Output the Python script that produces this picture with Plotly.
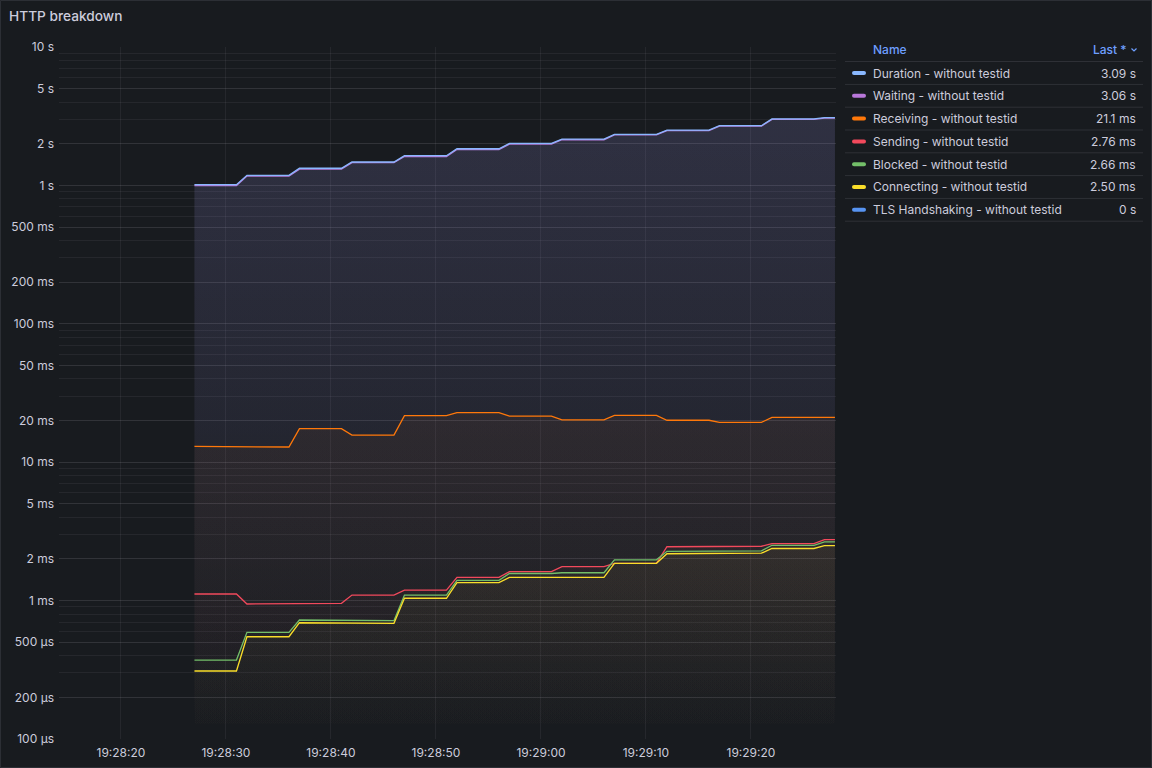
import plotly.graph_objects as go

# ---------------- data ----------------
DAY = "2024-05-14 "
# breakpoints: each plateau has a start and an end sample
times = ["19:28:27", "19:28:31", "19:28:32", "19:28:36", "19:28:37", "19:28:41",
         "19:28:42", "19:28:46", "19:28:47", "19:28:51", "19:28:52", "19:28:56",
         "19:28:57", "19:29:01", "19:29:02", "19:29:06", "19:29:07", "19:29:11",
         "19:29:12", "19:29:16", "19:29:17", "19:29:21", "19:29:22", "19:29:26",
         "19:29:27", "19:29:28"]

series_names = ["Duration - without testid", "Waiting - without testid",
                "Receiving - without testid", "Sending - without testid",
                "Blocked - without testid", "Connecting - without testid",
                "TLS Handshaking - without testid"]

# plateau values in seconds
duration = [1.012, 1.183, 1.33, 1.476, 1.64, 1.84, 2.01, 2.16, 2.34, 2.51, 2.70, 3.02, 3.09]
waiting = [0.998, 1.169, 1.311, 1.459, 1.617, 1.816, 1.987, 2.138, 2.316, 2.487, 2.678, 2.996, 3.063]
receiving = [0.0130, 0.01288, 0.01746, 0.0157, 0.0217, 0.0228, 0.0215, 0.0202, 0.0218,
             0.0201, 0.0194, 0.0211, 0.0211]
sending = [0.001116, 0.000945, 0.000955, 0.001097, 0.00119, 0.00147, 0.00162, 0.00176,
           0.00186, 0.00245, 0.00247, 0.00258, 0.00276]
blocked = [0.000372, 0.000590, 0.000724, 0.000716, 0.001097, 0.00140, 0.00157, 0.00159,
           0.00197, 0.00227, 0.00229, 0.00251, 0.00266]
connecting = [0.000310, 0.000548, 0.000692, 0.000685, 0.00104, 0.00135, 0.00147, 0.00147,
              0.00186, 0.00218, 0.00220, 0.00238, 0.00250]
tls = [0, 0, 0, 0, 0, 0, 0, 0, 0, 0, 0, 0, 0]

series_values = [duration, waiting, receiving, sending, blocked, connecting, tls]
series_colors = ["#8AB8FF", "#B877D9", "#FF780A", "#F2495C", "#73BF69", "#FADE2A", "#5794F2"]
# drawing order (Duration line kept on top of Waiting)
draw_order = [1, 0, 2, 3, 4, 5, 6]

y_tickvals = [1e-4, 2e-4, 5e-4, 1e-3, 2e-3, 5e-3, 0.01, 0.02, 0.05, 0.1, 0.2, 0.5, 1, 2, 5, 10]
y_ticktext = ["100 µs", "200 µs", "500 µs", "1 ms", "2 ms", "5 ms", "10 ms", "20 ms",
              "50 ms", "100 ms", "200 ms", "500 ms", "1 s", "2 s", "5 s", "10 s"]

# ---------------- layout geometry ----------------
W, H = 1152, 768
L, R, T, B = 59, 836, 47, 739
FONT = "Inter, 'Noto Sans', sans-serif"
TEXT = "rgb(204,204,220)"
BG = "#181b1f"
GRID = "rgba(204,204,220,0.075)"


def px(x):
    return (x - L) / (R - L)


def py(y):
    return (B - y) / (B - T)


def rgba(hexc, a):
    h = hexc.lstrip("#")
    r, g, b = int(h[0:2], 16), int(h[2:4], 16), int(h[4:6], 16)
    return f"rgba({r},{g},{b},{a})"


def fmt(v):
    if v == 0:
        return "0 s"
    if v >= 1:
        val, unit = v, "s"
    elif v >= 1e-3:
        val, unit = v * 1e3, "ms"
    else:
        val, unit = v * 1e6, "µs"
    dec = 0 if val >= 100 else (1 if val >= 10 else 2)
    return f"{val:.{dec}f} {unit}"


x = [DAY + t for t in times]

fig = go.Figure()
for k in draw_order:
    name, vals, col = series_names[k], series_values[k], series_colors[k]
    y = [v for v in vals for _ in (0, 1)]
    kw = {}
    if any(v > 0 for v in vals):
        kw = dict(fill="tozeroy",
                  fillgradient=dict(type="vertical", start=1e-4, stop=10,
                                    colorscale=[[0, rgba(col, 0)], [1, rgba(col, 0.1)]]))
    fig.add_trace(go.Scatter(x=x, y=y, mode="lines", name=name,
                             line=dict(color=col, width=1.3), hoverinfo="skip", **kw))

minor_vals = [k * 10 ** e for e in range(-4, 1) for k in range(1, 10)] + [10]

fig.update_layout(
    width=W, height=H, autosize=False,
    margin=dict(l=L, r=W - R, t=T, b=H - B, autoexpand=False),
    paper_bgcolor=BG, plot_bgcolor=BG,
    font=dict(family=FONT, color=TEXT, size=12),
    showlegend=False,
    xaxis=dict(type="date", range=[DAY + "19:28:14.1", DAY + "19:29:28.1"],
               tick0=DAY + "19:28:00", dtick=10000, tickformat="%H:%M:%S",
               showgrid=True, gridcolor=GRID, gridwidth=1, zeroline=False, showline=False,
               ticks="outside", ticklen=3, tickcolor="rgba(0,0,0,0)", automargin=False,
               tickfont=dict(size=12, color=TEXT)),
    yaxis=dict(type="log", range=[-4, 1], tickmode="array", tickvals=y_tickvals,
               ticktext=y_ticktext, showgrid=True, gridcolor=GRID, zeroline=False,
               showline=False, ticks="", ticklabelstandoff=4, automargin=False,
               tickfont=dict(size=12, color=TEXT),
               minor=dict(tickmode="array", tickvals=minor_vals, showgrid=True,
                          gridcolor=GRID, ticks="")),
)

shapes = []
annotations = []

# panel border
shapes.append(dict(type="rect", xref="paper", yref="paper", x0=px(0.5), x1=px(W - 0.5),
                   y0=py(0.5), y1=py(H - 0.5), line=dict(color="#2c2f35", width=1),
                   fillcolor="rgba(0,0,0,0)", layer="above"))

# title
annotations.append(dict(xref="paper", yref="paper", x=px(7), y=py(16), xanchor="left",
                        yanchor="middle", showarrow=False, text="HTTP breakdown",
                        font=dict(size=13.7, color=TEXT, family=FONT, weight=500)))

# legend table
LX0, LX1 = 845, 1143
HEAD_Y = 49
ROW0, ROWH = 73, 22.8
BLUE = "#6E9FFF"
LFS = 12
annotations.append(dict(xref="paper", yref="paper", x=px(871), y=py(HEAD_Y), xanchor="left",
                        yanchor="middle", showarrow=False, text="Name",
                        font=dict(size=LFS, color=BLUE, family=FONT, weight=500)))
annotations.append(dict(xref="paper", yref="paper", x=px(1129), y=py(HEAD_Y), xanchor="right",
                        yanchor="middle", showarrow=False, text="Last *",
                        font=dict(size=LFS, color=BLUE, family=FONT, weight=500)))
# chevron
shapes.append(dict(type="path", xref="paper", yref="paper",
                   path=f"M {px(1131.5)},{py(48.5)} L {px(1134)},{py(51)} L {px(1136.5)},{py(48.5)}",
                   line=dict(color=BLUE, width=1.2)))

line_col = "rgba(204,204,220,0.12)"
shapes.append(dict(type="line", xref="paper", yref="paper", x0=px(LX0), x1=px(LX1),
                   y0=py(61.5), y1=py(61.5), line=dict(color=line_col, width=1)))
for i, (name, vals, col) in enumerate(zip(series_names, series_values, series_colors)):
    yc = ROW0 + ROWH * i
    annotations.append(dict(xref="paper", yref="paper", x=px(871), y=py(yc), xanchor="left",
                            yanchor="middle", showarrow=False, text=name,
                            font=dict(size=LFS, color=TEXT, family=FONT)))
    annotations.append(dict(xref="paper", yref="paper", x=px(1138), y=py(yc), xanchor="right",
                            yanchor="middle", showarrow=False, text=fmt(vals[-1]),
                            font=dict(size=LFS, color=TEXT, family=FONT)))
    x0, x1, y0, y1 = 852, 866, yc - 2, yc + 2
    path = (f"M {px(x0 + 2)},{py(y0)} L {px(x1 - 2)},{py(y0)} "
            f"Q {px(x1)},{py(y0)} {px(x1)},{py(yc)} Q {px(x1)},{py(y1)} {px(x1 - 2)},{py(y1)} "
            f"L {px(x0 + 2)},{py(y1)} Q {px(x0)},{py(y1)} {px(x0)},{py(yc)} "
            f"Q {px(x0)},{py(y0)} {px(x0 + 2)},{py(y0)} Z")
    shapes.append(dict(type="path", xref="paper", yref="paper", path=path,
                       fillcolor=col, line=dict(width=0)))
    sep = yc + ROWH / 2
    shapes.append(dict(type="line", xref="paper", yref="paper", x0=px(LX0), x1=px(LX1),
                       y0=py(sep), y1=py(sep), line=dict(color=line_col, width=1)))

fig.update_layout(shapes=shapes, annotations=annotations)

post = (
    "document.documentElement.style.margin='0';"
    "document.documentElement.style.overflow='hidden';"
    "document.body.style.margin='0';document.body.style.padding='0';"
    "document.body.style.overflow='hidden';"
    "document.body.style.background='#181b1f';"
)
fig.write_html("out.html", config={"displayModeBar": False},
               post_script=post)
